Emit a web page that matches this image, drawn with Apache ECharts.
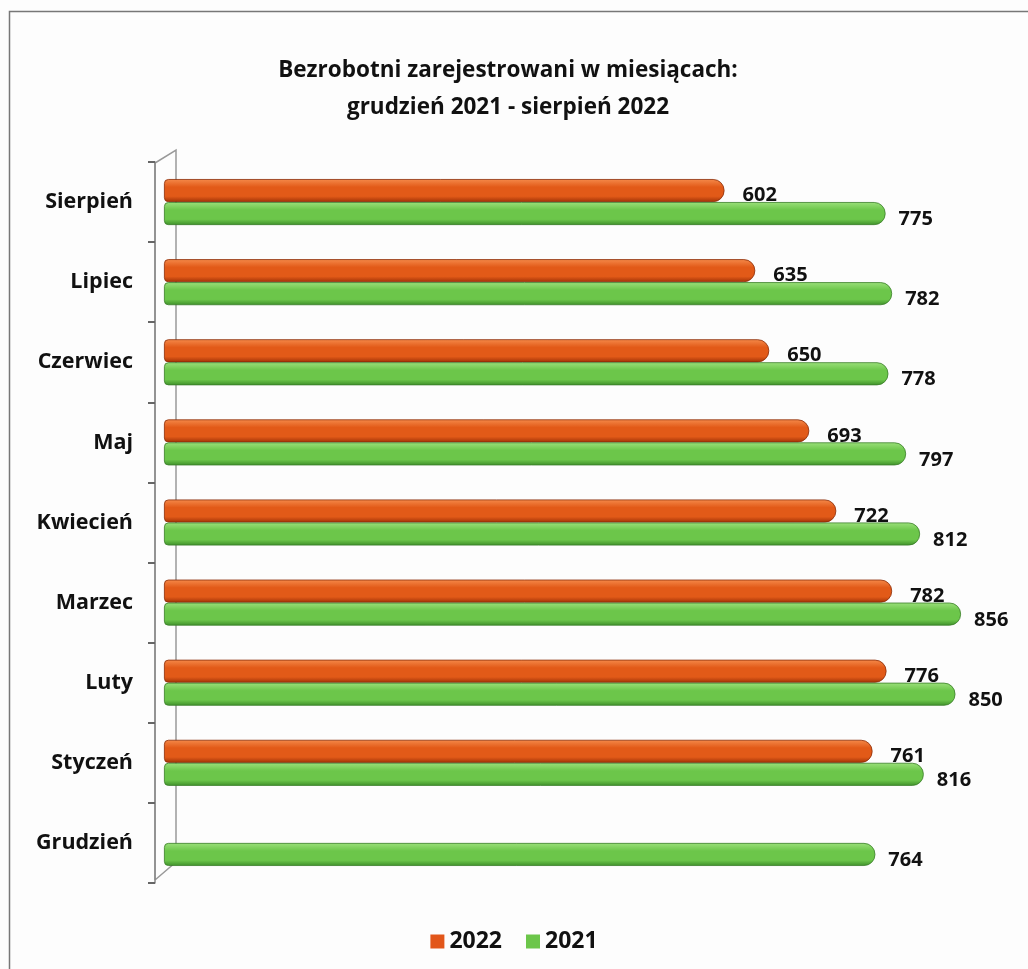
<!DOCTYPE html>
<html>
<head>
<meta charset="utf-8">
<script src="https://cdn.jsdelivr.net/npm/echarts@6/dist/echarts.min.js"></script>
<style>
  html, body { margin: 0; padding: 0; background: #fdfdfd; }
  #chart { width: 1028px; height: 969px; }
</style>
</head>
<body>
<div id="chart"></div>
<script>
// months, bottom to top as on the axis
const months = ['Grudzień', 'Styczeń', 'Luty', 'Marzec', 'Kwiecień', 'Maj', 'Czerwiec', 'Lipiec', 'Sierpień'];
const values2022 = [null, 761, 776, 782, 722, 693, 650, 635, 602];
const values2021 = [764, 816, 850, 856, 812, 797, 778, 782, 775];

function cylinder(light, mid, dark) {
  return new echarts.graphic.LinearGradient(0, 0, 0, 1, [
    {offset: 0, color: light},
    {offset: 0.35, color: mid},
    {offset: 0.75, color: mid},
    {offset: 1, color: dark}
  ])
}

let myChart = echarts.init(document.getElementById('chart'));

myChart.setOption({
  backgroundColor: '#fdfdfd',
  title: {
    text: 'Bezrobotni zarejestrowani w miesiącach:\ngrudzień 2021 - sierpień 2022',
    left: 503,
    textAlign: 'center',
    top: 47,
    textStyle: {
      fontFamily: 'Open Sans',
      fontSize: 22.5,
      fontWeight: 'bold',
      color: '#111',
      lineHeight: 37
    }
  },
  graphic: [
    {
      type: 'rect',
      shape: {x: 9.5, y: 11.5, width: 1030, height: 970},
      style: {fill: 'none', stroke: '#777', lineWidth: 1.5}
    },
    {
      // 3D wall frame left of the bars
      type: 'polyline',
      z: 0,
      shape: {points: [[155, 880], [155, 163], [176, 150], [176, 862], [155, 880]]},
      style: {fill: 'none', stroke: '#999', lineWidth: 1.5}
    }
  ],
  legend: {
    data: [
      {name: '2022', itemStyle: {color: '#e2561a', borderWidth: 0}},
      {name: '2021', itemStyle: {color: '#6cc64a', borderWidth: 0}}
    ],
    bottom: 11,
    left: 'center',
    itemWidth: 14,
    itemHeight: 14,
    itemGap: 24,
    icon: 'rect',
    textStyle: {
      fontFamily: 'Open Sans',
      fontSize: 23,
      fontWeight: 'bold',
      color: '#111'
    }
  },
  grid: {
    left: 164,
    right: 26,
    top: 162,
    bottom: 86
  },
  xAxis: {
    type: 'value',
    min: 0,
    max: 900,
    show: false
  },
  yAxis: {
    type: 'category',
    data: months,
    offset: 9,
    axisLine: {show: true, onZero: false, lineStyle: {color: '#888', width: 1.5}},
    axisTick: {show: true, length: 7, lineStyle: {color: '#666', width: 2}},
    axisLabel: {
      margin: 22,
      fontFamily: 'Open Sans',
      fontSize: 21.5,
      fontWeight: 'bold',
      color: '#111'
    }
  },
  series: [
    {
      name: '2022',
      type: 'bar',
      data: values2022,
      barWidth: 23,
      barGap: '0%',
      itemStyle: {
        color: cylinder('#f58a4a', '#e25a18', '#a03206'),
        borderColor: '#8a2c08',
        borderWidth: 0.8,
        borderRadius: [4, 11, 11, 4]
      },
      label: {
        show: true,
        position: 'right',
        distance: 18,
        offset: [0, 5],
        fontFamily: 'Open Sans',
        fontSize: 20,
        fontWeight: 'bold',
        color: '#111'
      }
    },
    {
      name: '2021',
      type: 'bar',
      data: values2021,
      barWidth: 23,
      barGap: '0%',
      itemStyle: {
        color: cylinder('#9be07a', '#6cc64a', '#3e8f2a'),
        borderColor: '#3a7d28',
        borderWidth: 0.8,
        borderRadius: [4, 11, 11, 4]
      },
      label: {
        show: true,
        position: 'right',
        distance: 13,
        offset: [0, 6],
        fontFamily: 'Open Sans',
        fontSize: 20,
        fontWeight: 'bold',
        color: '#111'
      }
    }
  ]
});
</script>
</body>
</html>
